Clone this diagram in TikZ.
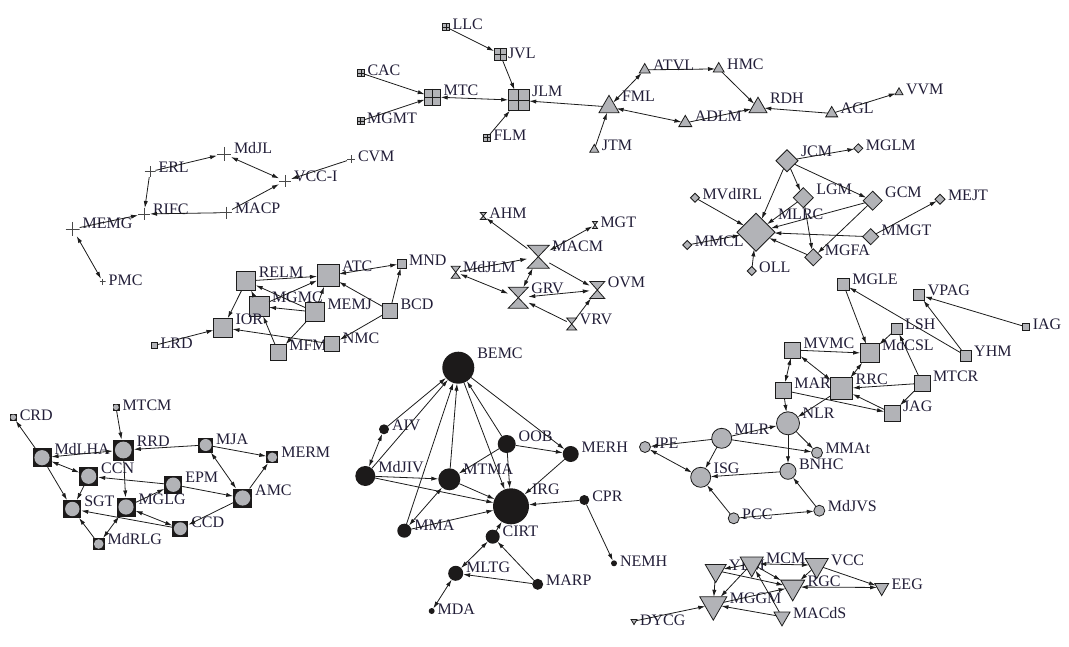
\documentclass[tikz,border=0pt]{standalone}
\usepackage{fontspec}
\setmainfont{Liberation Serif}
\usetikzlibrary{arrows.meta,shapes.geometric}
\definecolor{cg}{RGB}{178,179,183}
\definecolor{cb}{RGB}{28,26,26}
\definecolor{tx}{RGB}{34,30,56}
\definecolor{ln}{RGB}{28,28,28}
\tikzset{
 basic/.style={inner sep=0pt, outer sep=0pt, line width=0.8pt, draw=ln},
 gsq/.style={basic, rectangle, fill=cg, minimum size=#1, path picture={\draw[line width=0.6pt,ln] (path picture bounding box.north) -- (path picture bounding box.south) (path picture bounding box.west) -- (path picture bounding box.east);}},
 sqr/.style={basic, rectangle, fill=cg, minimum size=#1},
 bxc/.style={inner sep=0pt, outer sep=0pt, rectangle, fill=cb, minimum size=#1, path picture={\fill[cg] (path picture bounding box.center) circle ({0.4*#1pt});}},
 cir/.style={basic, circle, fill=cg, minimum size=#1},
 bci/.style={inner sep=0pt, outer sep=0pt, circle, fill=cb, minimum size=#1},
 dia/.style={basic, diamond, aspect=1, fill=cg, minimum size=#1},
 tri/.style={basic, regular polygon, regular polygon sides=3, fill=cg, minimum size={1.1547*#1}, yshift={-0.1443*#1}},
 dtri/.style={basic, regular polygon, regular polygon sides=3, shape border rotate=180, fill=cg, minimum size={1.1547*#1}, yshift={0.1443*#1}},
 hgb/.style={inner sep=0pt, outer sep=0pt, rectangle},
 hgs/.style={line width=0.8pt, draw=ln, fill=cg, line join=miter},
 crs/.style={inner sep=0pt, outer sep=0pt, rectangle, minimum size={2*#1}, path picture={\draw[line width=0.7pt, ln!80] (path picture bounding box.north) -- (path picture bounding box.south) (path picture bounding box.west) -- (path picture bounding box.east);}},
 lbl/.style={anchor=base west, inner sep=0pt, outer sep=0pt, text=tx, font=\fontsize{16}{19}\selectfont},
 e/.style={line width=0.8pt, draw=ln, -{Latex[length=7pt,width=4.2pt]}},
 ee/.style={line width=0.8pt, draw=ln, {Latex[length=7pt,width=4.2pt]}-{Latex[length=7pt,width=4.2pt]}},
}
\newcommand{\GSQ}[5]{\node[gsq=#4] (#1) at (#2,#3) {}; \node[lbl] (#1-l) at ({#2+#4/2+3},{#3-#4/2+6.5}) {#5};}
\newcommand{\SQ}[5]{\node[sqr=#4] (#1) at (#2,#3) {}; \node[lbl] (#1-l) at ({#2+#4/2+3},{#3-#4/2+6.5}) {#5};}
\newcommand{\BXC}[5]{\node[bxc=#4] (#1) at (#2,#3) {}; \node[lbl] (#1-l) at ({#2+#4/2+3},{#3-#4/2+6.5}) {#5};}
\newcommand{\CIR}[5]{\node[cir={2*#4}] (#1) at (#2,#3) {}; \node[lbl] (#1-l) at ({#2+#4+3},{#3-#4+6.5}) {#5};}
\newcommand{\BCI}[5]{\node[bci={2*#4}] (#1) at (#2,#3) {}; \node[lbl] (#1-l) at ({#2+#4+3},{#3-#4+6.5}) {#5};}
\newcommand{\DIA}[5]{\node[dia={2*#4}] (#1) at (#2,#3) {}; \node[lbl] (#1-l) at ({#2+#4+3},{#3-#4+6.5}) {#5};}
\newcommand{\TRI}[5]{\node[tri=#4] (#1) at (#2,#3) {}; \node[lbl] (#1-l) at ({#2+#4/2+3},{#3-0.433*#4+6.5}) {#5};}
\newcommand{\DTR}[5]{\node[dtri=#4] (#1) at (#2,#3) {}; \node[lbl] (#1-l) at ({#2+#4/2+3},{#3-0.433*#4+6.5}) {#5};}
\newcommand{\CRS}[5]{\node[crs=#4] (#1) at (#2,#3) {}; \node[lbl] (#1-l) at ({#2+#4+3},{#3-#4+6.5}) {#5};}
\newcommand{\HG}[6]{\node[hgb, minimum width=#4, minimum height=#5] (#1) at (#2,#3) {}; \draw[hgs] (#1.north west) -- (#1.north east) -- (#1.south west) -- (#1.south east) -- cycle; \node[lbl] (#1-l) at ({#2+#4/2+3},{#3-#5/2+6.5}) {#6};}
\begin{document}
\begin{tikzpicture}[x=1pt,y=-1pt]
\fill[white] (0,0) rectangle (1069,647);
\useasboundingbox (0,0) rectangle (1069,647);
% top grid squares
\GSQ{LLC}{446}{27}{7}{LLC}
\node[gsq=12] (JVL) at (500,54) {}; \node[lbl] (JVL-l) at (508,58.5) {JVL};
\GSQ{CAC}{361}{73}{7}{CAC}
\GSQ{MTC}{432.7}{97}{16}{MTC}
\GSQ{JLM}{518.7}{100.3}{21}{JLM}
\GSQ{MGMT}{360.7}{121}{7}{MGMT}
\GSQ{FLM}{487}{137.7}{7}{FLM}
% triangles
\TRI{FML}{609}{104}{20}{FML}
\TRI{ATVL}{644.7}{68.3}{11}{ATVL}
\TRI{HMC}{718.7}{67.3}{11}{HMC}
\TRI{RDH}{758}{105}{18}{RDH}
\TRI{ADLM}{685.3}{121}{13}{ADLM}
\TRI{AGL}{831.7}{111.7}{12}{AGL}
\TRI{VVM}{899}{91.3}{8}{VVM}
\TRI{JTM}{594.3}{148.3}{9}{JTM}
% crosses
\CRS{MdJL}{224}{154}{7}{MdJL}
\CRS{ERL}{150}{171.7}{5.5}{ERL}
\CRS{CVM}{351}{159.3}{4}{CVM}
\CRS{VCCI}{285}{181}{6}{VCC-I}
\CRS{RIFC}{144}{214}{6}{RIFC}
\CRS{MACP}{226}{212.7}{6}{MACP}
\CRS{MEMG}{72.7}{229}{7}{MEMG}
\CRS{PMC}{102.7}{281.7}{3}{PMC}
% gray squares left
\SQ{RELM}{246.3}{281}{19}{RELM}
\SQ{ATC}{328}{275.7}{22}{ATC}
\SQ{MND}{401.7}{263.7}{9}{MND}
\SQ{MGMC}{259}{306.3}{20}{MGMC}
\SQ{MEMJ}{315}{312}{19}{MEMJ}
\SQ{IOR}{223}{327.7}{19}{IOR}
\SQ{BCD}{390}{310.7}{15}{BCD}
\SQ{LRD}{154.7}{345.3}{6}{LRD}
\SQ{MFMC}{278.3}{352.3}{16}{MFMC}
\SQ{NMC}{332.3}{344}{15}{NMC}
% hourglasses
\HG{AHM}{483.3}{216}{6}{7}{AHM}
\HG{MGT}{595}{225}{5}{7}{MGT}
\HG{MACM}{538.3}{256.7}{22}{23}{MACM}
\HG{MdJLM}{455.7}{272.3}{9}{12}{MdJLM}
\HG{GRV}{518.3}{297.7}{20}{21}{GRV}
\HG{OVM}{597.3}{290}{15}{17}{OVM}
\HG{VRV}{571.7}{324}{10}{12}{VRV}
% diamonds
\DIA{JCM}{787}{160.7}{11}{JCM}
\DIA{MGLM}{858.3}{148.3}{4.5}{MGLM}
\DIA{MVdIRL}{695}{197.7}{4.5}{MVdIRL}
\DIA{LGM}{803.3}{197.7}{10}{LGM}
\DIA{GCM}{872.7}{200.7}{9.5}{GCM}
\DIA{MEJT}{940}{199.3}{5}{MEJT}
\DIA{MLRC}{756}{232.3}{19}{MLRC}
\DIA{MMGT}{870.7}{236.7}{8}{MMGT}
\DIA{MMCL}{687.3}{245}{4.5}{MMCL}
\DIA{MGFA}{813.3}{257.3}{8.5}{MGFA}
\DIA{OLL}{751.7}{271}{4.5}{OLL}
% gray squares right
\SQ{MGLE}{843.3}{284}{12}{MGLE}
\SQ{VPAG}{919.3}{295}{11}{VPAG}
\SQ{IAG}{1026.3}{327}{7}{IAG}
\SQ{LSH}{896.7}{328.7}{11}{LSH}
\SQ{MVMC}{792.7}{350}{16}{MVMC}
\SQ{MdCSL}{869.7}{353.3}{19}{MdCSL}
\SQ{YHM}{965.7}{355.7}{11}{YHM}
\SQ{MAR}{783.3}{390.3}{16}{MAR}
\SQ{RRC}{841.7}{388.7}{22}{RRC}
\SQ{MTCR}{922}{383.3}{16}{MTCR}
\SQ{JAG}{892}{413.3}{16}{JAG}
% gray circles
\CIR{NLR}{788}{423.3}{11.5}{NLR}
\CIR{MLR}{721.7}{438.3}{10}{MLR}
\CIR{JPE}{645}{447}{5.5}{JPE}
\CIR{MMAt}{817}{452.7}{5.5}{MMAt}
\CIR{ISG}{700.7}{477.3}{10}{ISG}
\CIR{BNHC}{788}{471.3}{8}{BNHC}
\CIR{PCC}{733.7}{518.3}{5.5}{PCC}
\CIR{MdJVS}{819.3}{510.7}{5.5}{MdJVS}
% black circles
\BCI{BEMC}{458.3}{367.7}{16}{BEMC}
\BCI{AIV}{384}{429.3}{5}{AIV}
\BCI{OOB}{506.7}{444}{9}{OOB}
\BCI{MERH}{570.7}{454}{8}{MERH}
\BCI{MdJIV}{365.3}{476}{10}{MdJIV}
\BCI{MTMA}{449.3}{479.3}{11}{MTMA}
\BCI{IRG}{511}{506.3}{18}{IRG}
\BCI{CPR}{584.3}{500}{5}{CPR}
\BCI{MMA}{404.3}{530.7}{7}{MMA}
\BCI{CIRT}{492.7}{536.7}{7}{CIRT}
\BCI{NEMH}{614}{563.3}{3}{NEMH}
\BCI{MLTG}{455.7}{573.3}{7.5}{MLTG}
\BCI{MARP}{537.7}{584.3}{5.5}{MARP}
\BCI{MDA}{431.7}{611}{3}{MDA}
% boxed circles
\BXC{CRD}{13.3}{417.3}{7}{CRD}
\BXC{MTCM}{116}{407.3}{7}{MTCM}
\BXC{MdLHA}{42}{457.7}{19}{MdLHA}
\BXC{RRD}{123.3}{450}{21}{RRD}
\BXC{MJA}{205.7}{445}{15}{MJA}
\BXC{MERM}{272.3}{457.3}{12}{MERM}
\BXC{CCN}{88.7}{476.3}{19}{CCN}
\BXC{EPM}{173.3}{484.7}{18}{EPM}
\BXC{AMC}{242.7}{498}{19}{AMC}
\BXC{SGT}{72.3}{509}{18}{SGT}
\BXC{MGLG}{126}{507}{19}{MGLG}
\BXC{CCD}{180.3}{528.7}{16}{CCD}
\BXC{MdRLG}{98.7}{544}{12}{MdRLG}
% down triangles
\DTR{YEM}{715.7}{573.5}{21}{YEM}
\DTR{MCM}{751.7}{567}{23}{MCM}
\DTR{VCC}{816.7}{568.5}{23}{VCC}
\DTR{RGC}{792.7}{590.5}{24}{RGC}
\DTR{EEG}{881.7}{589.5}{14}{EEG}
\DTR{MGGM}{713.3}{608.5}{27}{MGGM}
\DTR{MACdS}{782}{619}{16}{MACdS}
\DTR{DYCG}{634}{622}{6}{DYCG}
% ---------- edges ----------
\draw[e] (LLC) -- (JVL);
\draw[e] (JVL) -- (JLM);
\draw[e] (CAC) -- (MTC);
\draw[e] (MGMT) -- (MTC);
\draw[ee] (MTC) -- (JLM);
\draw[e] (FLM) -- (JLM);
\draw[e] (FML) -- (JLM);
\draw[e] (JTM) -- (FML);
\draw[ee] (FML) -- (ATVL);
\draw[ee] (FML) -- (ADLM);
\draw[e] (ATVL) -- (HMC);
\draw[e] (HMC) -- (RDH);
\draw[e] (ADLM) -- (RDH);
\draw[e] (AGL) -- (RDH);
\draw[e] (AGL) -- (VVM);
%
\draw[e] (ERL) -- (MdJL);
\draw[ee] (MdJL) -- (VCCI);
\draw[e] (CVM) -- (VCCI);
\draw[e] (MACP) -- (VCCI);
\draw[e] (MACP) -- (RIFC);
\draw[e] (ERL) -- (RIFC);
\draw[e] (MEMG) -- (RIFC);
\draw[ee] (MEMG) -- (PMC);
%
\draw[e] (RELM) -- (ATC);
\draw[ee] (ATC) -- (MND);
\draw[e] (BCD) -- (MND);
\draw[e] (BCD) -- (ATC);
\draw[e] (MEMJ) -- (ATC);
\draw[e] (MGMC) -- (ATC);
\draw[e] (MEMJ) -- (RELM);
\draw[e] (MGMC) -- (RELM);
\draw[e] (RELM) -- (IOR);
\draw[e] (MEMJ) -- (MGMC);
\draw[e] (MEMJ) -- (MFMC);
\draw[e] (MFMC) -- (MGMC);
\draw[e] (NMC) -- (IOR);
\draw[e] (BCD) -- (NMC);
\draw[e] (LRD) -- (IOR);
%
\draw[e] (MACM) -- (AHM);
\draw[ee] (MACM) -- (MGT);
\draw[e] (MdJLM) -- (MACM);
\draw[ee] (MdJLM) -- (GRV);
\draw[ee] (MACM) -- (GRV);
\draw[e] (MACM) -- (OVM);
\draw[ee] (OVM) -- (GRV);
\draw[e] (VRV) -- (GRV);
\draw[e] (VRV) -- (OVM);
%
\draw[e] (JCM) -- (MGLM);
\draw[e] (JCM) -- (MLRC);
\draw[e] (JCM) -- (LGM);
\draw[e] (JCM) -- (GCM);
\draw[e] (MVdIRL) -- (MLRC);
\draw[e] (LGM) -- (MLRC);
\draw[e] (GCM) -- (MLRC);
\draw[e] (GCM) -- (MGFA);
\draw[e] (LGM) -- (MGFA);
\draw[e] (MMGT) -- (MLRC);
\draw[e] (MMGT) -- (MEJT);
\draw[e] (MGFA) -- (MLRC);
\draw[e] (MMCL) -- (MLRC);
\draw[e] (OLL) -- (MLRC);
%
\draw[e] (MGLE) -- (MdCSL);
\draw[e] (YHM) -- (MGLE);
\draw[e] (YHM) -- (VPAG);
\draw[e] (IAG) -- (VPAG);
\draw[e] (LSH) -- (MdCSL);
\draw[e] (MTCR) -- (LSH);
\draw[e] (MVMC) -- (MdCSL);
\draw[ee] (MVMC) -- (RRC);
\draw[ee] (MVMC) -- (MAR);
\draw[ee] (RRC) -- (MdCSL);
\draw[e] (MTCR) -- (RRC);
\draw[e] (MTCR) -- (JAG);
\draw[e] (JAG) -- (RRC);
\draw[e] (MAR) -- (JAG);
\draw[e] (MAR) -- (NLR);
\draw[e] (RRC) -- (NLR);
%
\draw[e] (MLR) -- (NLR);
\draw[e] (MLR) -- (JPE);
\draw[ee] (JPE) -- (ISG);
\draw[e] (MLR) -- (ISG);
\draw[e] (MLR) -- (MMAt);
\draw[e] (NLR) -- (MMAt);
\draw[e] (NLR) -- (BNHC);
\draw[e] (BNHC) -- (ISG);
\draw[e] (PCC) -- (ISG);
\draw[e] (PCC) -- (MdJVS);
\draw[e] (MdJVS) -- (BNHC);
%
\draw[e] (AIV) -- (BEMC);
\draw[ee] (MdJIV) -- (AIV);
\draw[e] (MdJIV) -- (BEMC);
\draw[e] (MMA) -- (BEMC);
\draw[e] (MTMA) -- (BEMC);
\draw[e] (BEMC) -- (IRG);
\draw[e] (OOB) -- (BEMC);
\draw[e] (BEMC) -- (MERH);
\draw[e] (OOB) -- (MERH);
\draw[e] (OOB) -- (IRG);
\draw[e] (OOB) -- (MTMA);
\draw[e] (MERH) -- (IRG);
\draw[e] (MdJIV) -- (MTMA);
\draw[e] (MdJIV) -- (IRG);
\draw[e] (MTMA) -- (IRG);
\draw[ee] (MMA) -- (MTMA);
\draw[e] (MMA) -- (IRG);
\draw[e] (CPR) -- (IRG);
\draw[e] (CPR) -- (NEMH);
\draw[e] (CIRT) -- (IRG);
\draw[ee] (MLTG) -- (CIRT);
\draw[e] (MARP) -- (CIRT);
\draw[e] (MARP) -- (MLTG);
\draw[ee] (MLTG) -- (MDA);
%
\draw[e] (MdLHA) -- (CRD);
\draw[e] (MTCM) -- (RRD);
\draw[ee] (MdLHA) -- (RRD);
\draw[e] (MJA) -- (RRD);
\draw[e] (MJA) -- (MERM);
\draw[ee] (MJA) -- (AMC);
\draw[e] (AMC) -- (MERM);
\draw[ee] (MdLHA) -- (CCN);
\draw[e] (MdLHA) -- (SGT);
\draw[e] (CCN) -- (SGT);
\draw[e] (RRD) -- (MGLG);
\draw[e] (EPM) -- (CCN);
\draw[e] (EPM) -- (AMC);
\draw[e] (MGLG) -- (EPM);
\draw[e] (AMC) -- (CCD);
\draw[e] (CCD) -- (SGT);
\draw[ee] (MGLG) -- (CCD);
\draw[e] (MdRLG) -- (SGT);
\draw[ee] (MdRLG) -- (MGLG);
%
\draw[e] (YEM) -- (MGGM);
\draw[ee] (MCM) -- (VCC);
\draw[e] (MCM) -- (YEM);
\draw[e] (MCM) -- (MGGM);
\draw[e] (YEM) -- (RGC);
\draw[e] (MCM) -- (RGC);
\draw[e] (VCC) -- (RGC);
\draw[e] (VCC) -- (EEG);
\draw[ee] (EEG) -- (RGC);
\draw[e] (MGGM) -- (RGC);
\draw[e] (MACdS) -- (MGGM);
\draw[e] (MACdS) -- (MCM);
\draw[e] (DYCG) -- (MGGM);
\end{tikzpicture}
\end{document}
